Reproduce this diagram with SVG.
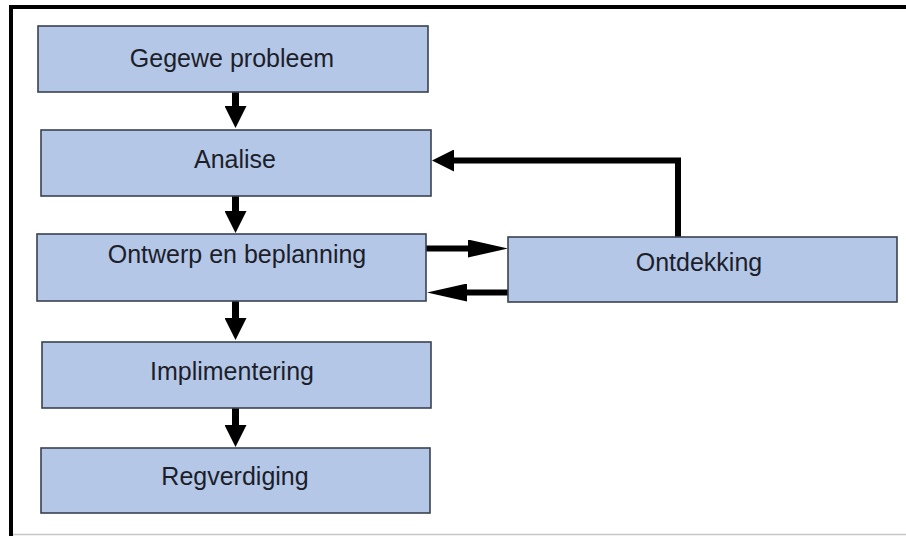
<svg xmlns="http://www.w3.org/2000/svg" width="906" height="536" viewBox="0 0 906 536">
  <style>
    .box rect { fill: #b4c7e7; stroke: #3a4150; stroke-width: 1.6; }
    .box text { font-family: "Liberation Sans", Arial, sans-serif; font-size: 25px; fill: #1c1e2a; text-anchor: middle; }
    .conn path { fill: none; stroke: #000; stroke-width: 7; }
    .thin path { stroke-width: 6; }
  </style>
  <defs>
    <marker id="head" viewBox="0 0 22 22" markerWidth="22" markerHeight="22" refX="2" refY="11" orient="auto" markerUnits="userSpaceOnUse">
      <path d="M0,0 L22,11 L0,22 Z" fill="#000"/>
    </marker>
    <marker id="headLong" viewBox="0 0 40 18" markerWidth="40" markerHeight="18" refX="2" refY="9" orient="auto" markerUnits="userSpaceOnUse">
      <path d="M0,0 L40,9 L0,18 Z" fill="#000"/>
    </marker>
  </defs>

  <rect width="906" height="536" fill="#fff"/>

  <!-- frame -->
  <path d="M9,7 H906" stroke="#000" stroke-width="4"/>
  <path d="M11,5 V536" stroke="#000" stroke-width="4"/>
  <path d="M13,534.5 H906" stroke="#c6c6c6" stroke-width="1.5"/>

  <!-- connectors -->
  <g class="conn" id="connectors">
    <path d="M235.5,92 V108" marker-end="url(#head)"/>
    <path d="M235.5,196 V213" marker-end="url(#head)"/>
    <path d="M235.5,301 V320" marker-end="url(#head)"/>
    <path d="M235.5,408 V427" marker-end="url(#head)"/>
    <g class="thin">
      <path d="M426,248.5 H470" marker-end="url(#headLong)"/>
      <path d="M508,292.5 H465" marker-end="url(#headLong)"/>
      <path d="M678,237 V160.5 H452" marker-end="url(#head)"/>
    </g>
  </g>

  <!-- nodes -->
  <g class="box" id="gegewe-probleem">
    <rect x="38" y="26" width="390" height="66"/>
    <text x="232" y="67">Gegewe probleem</text>
  </g>
  <g class="box" id="analise">
    <rect x="41" y="130" width="390" height="66"/>
    <text x="235" y="168">Analise</text>
  </g>
  <g class="box" id="ontwerp">
    <rect x="37" y="234" width="389" height="67"/>
    <text x="237" y="263">Ontwerp en beplanning</text>
  </g>
  <g class="box" id="implimentering">
    <rect x="42" y="342" width="389" height="66"/>
    <text x="232" y="380">Implimentering</text>
  </g>
  <g class="box" id="regverdiging">
    <rect x="41" y="448" width="389" height="65"/>
    <text x="235" y="485">Regverdiging</text>
  </g>
  <g class="box" id="ontdekking">
    <rect x="508" y="237" width="389" height="65"/>
    <text x="699" y="271">Ontdekking</text>
  </g>
</svg>
